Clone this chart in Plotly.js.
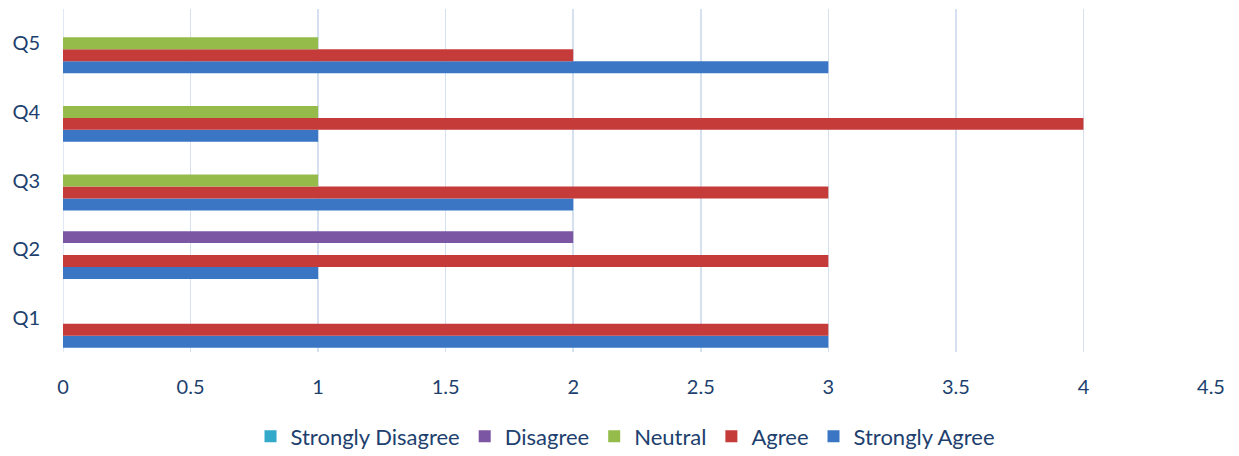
<!DOCTYPE html>
<html>
<head>
<meta charset="utf-8">
<script src="https://cdn.plot.ly/plotly-3.0.1.min.js"></script>
<style>html,body{margin:0;padding:0;background:#fff;}#chart{width:1239px;height:456px;}</style>
</head>
<body>
<div id="chart"></div>
<script>
const categories = ["Q1", "Q2", "Q3", "Q4", "Q5"];
const stronglyAgree = [3, 1, 2, 1, 3];
const agree = [3, 3, 3, 4, 2];
const neutral = [0, 0, 1, 1, 1];
const disagree = [0, 2, 0, 0, 0];
const stronglyDisagree = [0, 0, 0, 0, 0];
const xTicks = [0, 0.5, 1, 1.5, 2, 2.5, 3, 3.5, 4, 4.5];

const series = [
  {name: "Strongly Agree", values: stronglyAgree, color: "#3A76C4"},
  {name: "Agree", values: agree, color: "#C53B3A"},
  {name: "Neutral", values: neutral, color: "#95BC4A"},
  {name: "Disagree", values: disagree, color: "#7B56A3"},
  {name: "Strongly Disagree", values: stronglyDisagree, color: "#33AACA"}
];

const traces = series.map(s => ({
  type: "bar",
  orientation: "h",
  name: s.name,
  y: categories,
  x: s.values,
  marker: {color: s.color, line: {width: 0}}
}));

const fontColor = "#203F6E";
const fontSize = 20;
const layout = {
  width: 1239, height: 456,
  margin: {l: 63, r: 28, t: 9, b: 104, autoexpand: false},
  paper_bgcolor: "#ffffff", plot_bgcolor: "#ffffff",
  barmode: "group", bargap: 0.127, bargroupgap: 0,
  font: {family: "Lato, 'Open Sans', sans-serif", size: fontSize, color: fontColor},
  xaxis: {
    range: [0, 4.5], tickvals: xTicks, ticktext: xTicks.map(String),
    showgrid: true, gridcolor: "#D5E1F0", gridwidth: 1.5,
    zeroline: false, showline: false, ticks: "", automargin: false,
    ticklabelstandoff: 21, tickfont: {size: fontSize, color: fontColor},
    fixedrange: true
  },
  yaxis: {
    range: [-0.5, 4.5], showgrid: false, zeroline: false, automargin: false,
    showline: false, ticks: "", ticklabelstandoff: 22,
    tickfont: {size: fontSize, color: fontColor}, fixedrange: true
  },
  shapes: [{type: "line", xref: "x", yref: "paper", x0: 0, x1: 0, y0: 0, y1: 1,
            line: {color: "#D5E1F0", width: 1.5}, layer: "below"}],
  legend: {
    orientation: "h", traceorder: "reversed",
    x: 0.49, xanchor: "center", y: -0.246, yanchor: "middle",
    font: {size: 22, color: fontColor}, itemwidth: 30
  },
  showlegend: true
};

Plotly.newPlot("chart", traces, layout, {displayModeBar: false, staticPlot: true});
</script>
</body>
</html>
